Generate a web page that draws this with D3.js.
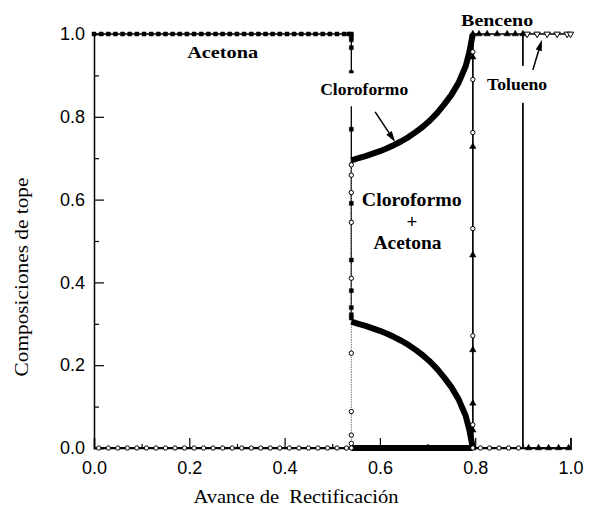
<!DOCTYPE html>
<html><head><meta charset="utf-8">
<script src="https://cdn.jsdelivr.net/npm/d3@7"></script>
<style>
body{margin:0;background:#fff;}
svg{display:block;}
</style></head><body>
<svg id="chart" width="589" height="512"></svg>
<script>
// ---- data: top compositions vs. rectification advance ----
const cutAcetona = 0.54;   // end of the acetone cut
const cutBenceno = 0.795;  // benzene appears
const cutTolueno = 0.90;   // toluene appears

// acetone plateau (x values of the plotted points, y = 1)
const acetonaTopX = [0, 0.015, 0.03, 0.045, 0.06, 0.075, 0.09, 0.105, 0.12, 0.135, 0.15, 0.165, 0.18,
  0.195, 0.21, 0.225, 0.24, 0.255, 0.27, 0.285, 0.30, 0.315, 0.33, 0.345, 0.36, 0.375, 0.39, 0.405,
  0.42, 0.435, 0.45, 0.465, 0.48, 0.495, 0.51, 0.525, 0.535, 0.54];
// acetone drop at the end of the first cut
const acetonaDrop = [0.995, 0.986, 0.967, 0.907, 0.77, 0.591, 0.454, 0.38, 0.339, 0.322, 0.314];
// chloroform points on the baseline before the first cut (y = 0)
const cloroZeroX = [0.01, 0.03, 0.05, 0.07, 0.09, 0.11, 0.13, 0.15, 0.17, 0.19, 0.21, 0.23, 0.25,
  0.27, 0.29, 0.31, 0.33, 0.35, 0.37, 0.39, 0.41, 0.43, 0.45, 0.47, 0.49, 0.51, 0.53];
// chloroform rise at the end of the first cut
const cloroRise = [0, 0.011, 0.031, 0.088, 0.229, 0.41, 0.545, 0.617, 0.659, 0.684];

// chloroform + acetone mixture (densely sampled stretch)
const curveX        = [0.54, 0.555, 0.57, 0.585, 0.60, 0.615, 0.63, 0.645, 0.66, 0.675, 0.69, 0.705, 0.72, 0.735, 0.75, 0.765, 0.78, 0.7875, 0.795];
const cloroCurve    = [0.695, 0.700, 0.705, 0.711, 0.717, 0.724, 0.732, 0.741, 0.751, 0.763, 0.776, 0.791, 0.809, 0.830, 0.853, 0.882, 0.922, 0.955, 1.0];
const acetonaCurve  = [0.305, 0.300, 0.295, 0.289, 0.283, 0.276, 0.268, 0.259, 0.249, 0.237, 0.224, 0.209, 0.191, 0.170, 0.147, 0.118, 0.078, 0.045, 0.0];
const bencenoCurve  = [0, 0, 0, 0, 0, 0, 0, 0, 0, 0, 0, 0, 0, 0, 0, 0, 0, 0, 0];

// chloroform drop / benzene rise at the second cut
const cloroDrop   = [1.0, 0.957, 0.89, 0.762, 0.53, 0.271, 0.056, 0];
const bencenoRise = [0, 0.043, 0.108, 0.237, 0.466, 0.728, 0.944, 1.0];
const cloroTailX  = [0.811, 0.83, 0.85, 0.87, 0.891];
// benzene plateau, then benzene back on the baseline
const bencenoTopX  = [0.808, 0.825, 0.846, 0.867, 0.884, 0.90];
const bencenoTailX = [0.912, 0.933, 0.954, 0.975, 0.996];
// toluene plateau
const toluenoTopX = [0.909, 0.93, 0.951, 0.972, 0.993, 1.0];

// axis ticks
const majorTicks = [0, 0.2, 0.4, 0.6, 0.8, 1.0];
const minorTicks = [0.1, 0.3, 0.5, 0.7, 0.9];

// ---- assemble series as point lists ----
const acetona = [
  ...acetonaTopX.map(x => [x, 1]),
  ...acetonaDrop.map(y => [cutAcetona, y]),
];
const acetonaTail = [[cutBenceno, 0], [1, 0]];
const cloroformo = [
  ...cloroZeroX.map(x => [x, 0]),
  ...cloroRise.map(y => [cutAcetona, y]),
];
const cloroformo2 = [
  ...cloroDrop.map(y => [cutBenceno, y]),
  ...cloroTailX.map(x => [x, 0]),
];
const benceno = [
  ...bencenoRise.map(y => [cutBenceno, y]),
  ...bencenoTopX.map(x => [x, 1]),
  [cutTolueno, 0],
  ...bencenoTailX.map(x => [x, 0]),
];
const tolueno = [[0, 0], [cutTolueno, 0], [cutTolueno, 1], ...toluenoTopX.map(x => [x, 1])];

// ---- layout ----
const svg = d3.select('#chart');
const x = d3.scaleLinear().domain([0, 1]).range([94, 570.5]);
const y = d3.scaleLinear().domain([0, 1]).range([448, 34]);
const line = d3.line().x(d => x(d[0])).y(d => y(d[1]));

const g = svg.append('g');

// axes: ticks point into the plot
const fmt = d3.format('.1f');
const xAxis = g.append('g').attr('transform', `translate(0,${y(0)})`)
  .call(d3.axisBottom(x).tickValues(majorTicks).tickSize(-10).tickPadding(13).tickFormat(fmt));
const xMinor = g.append('g').attr('transform', `translate(0,${y(0)})`)
  .call(d3.axisBottom(x).tickValues(minorTicks).tickSize(-4).tickFormat(''));
const yAxis = g.append('g').attr('transform', `translate(${x(0)},0)`)
  .call(d3.axisLeft(y).tickValues(majorTicks).tickSize(-10).tickPadding(9).tickFormat(fmt));
const yMinor = g.append('g').attr('transform', `translate(${x(0)},0)`)
  .call(d3.axisLeft(y).tickValues(minorTicks).tickSize(-5).tickFormat(''));
[xAxis, xMinor, yAxis, yMinor].forEach(a => {
  a.selectAll('path.domain').attr('stroke', '#000').attr('stroke-width', 1.5);
  a.selectAll('.tick line').attr('stroke', '#000').attr('stroke-width', 1.2);
  a.selectAll('.tick text').attr('font-family', '"Liberation Sans", Arial, sans-serif')
    .attr('font-size', 18).attr('fill', '#000');
});
xMinor.select('path.domain').remove();
yMinor.select('path.domain').remove();

// axis titles
g.append('text').attr('x', 296).attr('y', 503).attr('text-anchor', 'middle')
  .attr('font-family', '"Liberation Serif", "Times New Roman", serif').attr('font-size', 18)
  .attr('textLength', 205).attr('lengthAdjust', 'spacingAndGlyphs')
  .attr('xml:space', 'preserve').text('Avance de  Rectificación');
g.append('text').attr('transform', 'translate(28,277) rotate(-90)').attr('text-anchor', 'middle')
  .attr('font-family', '"Liberation Serif", "Times New Roman", serif').attr('font-size', 18)
  .attr('textLength', 199).attr('lengthAdjust', 'spacingAndGlyphs')
  .text('Composiciones de tope');

// ---- series lines ----
const plot = g.append('g');
plot.append('path').datum(tolueno).attr('d', line).attr('fill', 'none').attr('stroke', '#000').attr('stroke-width', 1.3);
plot.append('path').datum([[0, 0], [cutBenceno, 0]]).attr('d', line).attr('fill', 'none').attr('stroke', '#000').attr('stroke-width', 1.3);
plot.append('path').datum(benceno).attr('d', line).attr('fill', 'none').attr('stroke', '#000').attr('stroke-width', 1.3);
plot.append('path').datum(acetona).attr('d', line).attr('fill', 'none').attr('stroke', '#000').attr('stroke-width', 1.3);
plot.append('path').datum(acetonaTail).attr('d', line).attr('fill', 'none').attr('stroke', '#000').attr('stroke-width', 1.3);
plot.append('path').datum(cloroformo.filter(d => d[0] === cutAcetona)).attr('d', line)
  .attr('fill', 'none').attr('stroke', '#777').attr('stroke-width', 1).attr('stroke-dasharray', '1.5,1');
plot.append('path').datum([[0, 0], [cutAcetona, 0]]).attr('d', line).attr('fill', 'none').attr('stroke', '#000').attr('stroke-width', 1.3);
plot.append('path').datum(cloroformo2).attr('d', line).attr('fill', 'none').attr('stroke', '#000').attr('stroke-width', 1.2);

// densely sampled stretch drawn as heavy strokes
const dense = (vals) => curveX.map((cx, i) => [cx, vals[i]]);
[bencenoCurve, acetonaCurve, cloroCurve].forEach(vals => {
  plot.append('path').datum(dense(vals)).attr('d', line)
    .attr('fill', 'none').attr('stroke', '#000').attr('stroke-width', 6)
    .attr('stroke-linejoin', 'round').attr('stroke-linecap', 'butt');
});

// ---- markers ----
const sq = d3.symbol().type(d3.symbolSquare).size(16);
const tri = d3.symbol().type(d3.symbolTriangle).size(18);
const circ = d3.symbol().type(d3.symbolCircle).size(15);
function markers(data, sym, fill, rot) {
  plot.append('g').selectAll('path').data(data).join('path')
    .attr('d', sym)
    .attr('transform', d => `translate(${x(d[0])},${y(d[1])})${rot ? ' rotate(180)' : ''}`)
    .attr('fill', fill).attr('stroke', '#000').attr('stroke-width', fill === '#fff' ? 1 : 0.5);
}
markers(benceno.filter(d => !(d[0] === cutTolueno && d[1] === 0)), tri, '#000');
markers(toluenoTopX.map(v => [v, 1]), tri, '#fff', true);
markers(acetona, sq, '#000');
markers(cloroformo, circ, '#fff');
markers(cloroformo2.filter(d => d[1] < 1), circ, '#fff');

// ---- annotations ----
const serif = '"Liberation Serif", "Times New Roman", serif';
function label(txt, cx, cy, size, len, box) {
  const t = g.append('text').attr('x', x(cx)).attr('y', y(cy)).attr('text-anchor', 'middle')
    .attr('font-family', serif).attr('font-weight', 'bold').attr('font-size', size)
    .attr('textLength', len).attr('lengthAdjust', 'spacingAndGlyphs').text(txt);
  if (box) {
    const b = t.node().getBBox();
    g.insert('rect', () => t.node())
      .attr('x', b.x - box[0]).attr('y', b.y - box[1])
      .attr('width', b.width + 2 * box[0]).attr('height', b.height + 2 * box[1])
      .attr('fill', '#fff');
  }
  return t;
}
label('Acetona', 0.27, 0.942, 17, 71);
label('Cloroformo', 0.567, 0.852, 16, 88, [6, 8]);
label('Benceno', 0.846, 1.02, 17, 72);
label('Tolueno', 0.888, 0.865, 17, 60, [5, 9]);
label('Cloroformo', 0.667, 0.585, 19, 100);
label('+', 0.667, 0.532, 19);
label('Acetona', 0.658, 0.481, 19, 68);

// arrows
function arrow(x0, y0, x1, y1) {
  const px0 = x(x0), py0 = y(y0), px1 = x(x1), py1 = y(y1);
  const ang = Math.atan2(py1 - py0, px1 - px0);
  const L = 11, W = 3.2;
  const bx = px1 - L * Math.cos(ang), by = py1 - L * Math.sin(ang);
  g.append('line').attr('x1', px0).attr('y1', py0).attr('x2', bx).attr('y2', by)
    .attr('stroke', '#000').attr('stroke-width', 1.5);
  g.append('path').attr('d', `M${px1},${py1}L${bx + W * Math.sin(ang)},${by - W * Math.cos(ang)}L${bx - W * Math.sin(ang)},${by + W * Math.cos(ang)}Z`)
    .attr('fill', '#000');
}
arrow(0.590, 0.812, 0.632, 0.739);
arrow(0.921, 0.913, 0.940, 0.986);
</script>
</body></html>
